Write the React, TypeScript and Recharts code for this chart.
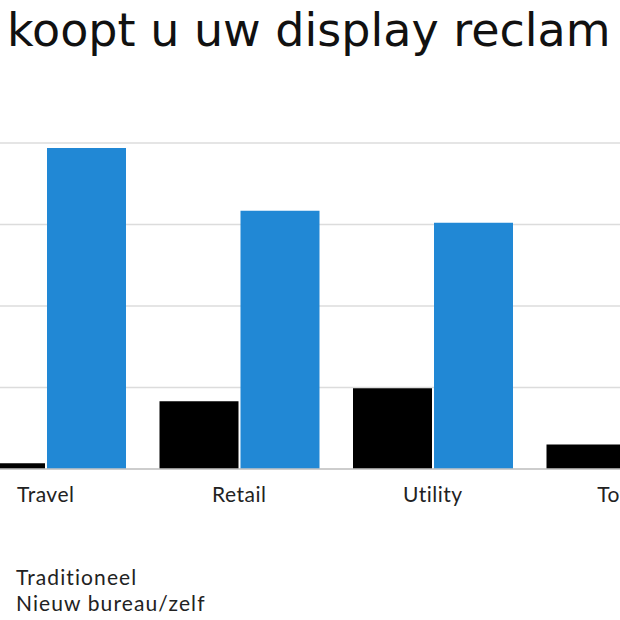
import React from "react";
import { BarChart, Bar, XAxis, YAxis, CartesianGrid } from "recharts";

const categories = ["Travel", "Retail", "Utility", "Totaal"];
const traditioneel = [0.7, 8.3, 9.9, 3.0];
const nieuwBureau = [39.4, 31.7, 30.2, 34.0];
const yTicks = [0, 10, 20, 30, 40];
const title = "koopt u uw display reclam";
const seriesNames = ["Traditioneel", "Nieuw bureau/zelf"];

const data = categories.map((c, i) => ({
  name: c,
  traditioneel: traditioneel[i],
  nieuw: nieuwBureau[i],
}));

const labelFont = "Lato, 'Open Sans', sans-serif";

const Tick = (props: any) => {
  const { x, y, payload } = props;
  return (
    <text
      x={x}
      y={y + 25}
      textAnchor="middle"
      fontFamily={labelFont}
      fontSize={21}
      letterSpacing={0.5}
      fill="#222"
    >
      {payload.value}
    </text>
  );
};

export default function App() {
  return (
    <div style={{ position: "absolute", left: 0, top: 0, width: 620, height: 620, overflow: "hidden", background: "#fff" }}>
      <div
        style={{
          position: "absolute",
          left: 7,
          top: 7,
          fontFamily: "'DejaVu Sans', sans-serif",
          fontSize: 46,
          lineHeight: 1,
          color: "#111",
          whiteSpace: "nowrap",
        }}
      >
        {title}
      </div>
      <div style={{ position: "absolute", left: -51, top: 0 }}>
        <BarChart
          width={774}
          height={620}
          data={data}
          margin={{ top: 143, right: 0, left: 0, bottom: 0 }}
          barSize={79}
          barGap={2}
        >
          <CartesianGrid horizontal vertical={false} stroke="#dcdcdc" strokeWidth={1.5} />
          <YAxis hide domain={[0, 40]} ticks={yTicks} />
          <XAxis
            dataKey="name"
            height={151}
            axisLine={{ stroke: "#c4c4c4", strokeWidth: 1.5 }}
            tickLine={false}
            tick={<Tick />}
            interval={0}
          />
          <Bar dataKey="traditioneel" name={seriesNames[0]} fill="#000000" isAnimationActive={false} />
          <Bar dataKey="nieuw" name={seriesNames[1]} fill="#2188d5" isAnimationActive={false} />
        </BarChart>
      </div>
      <div
        style={{
          position: "absolute",
          left: 16,
          top: 564,
          fontFamily: labelFont,
          fontSize: 21,
          letterSpacing: 1.1,
          color: "#222",
          lineHeight: "26px",
          whiteSpace: "nowrap",
        }}
      >
        {seriesNames.map((n) => (
          <div key={n}>{n}</div>
        ))}
      </div>
    </div>
  );
}
